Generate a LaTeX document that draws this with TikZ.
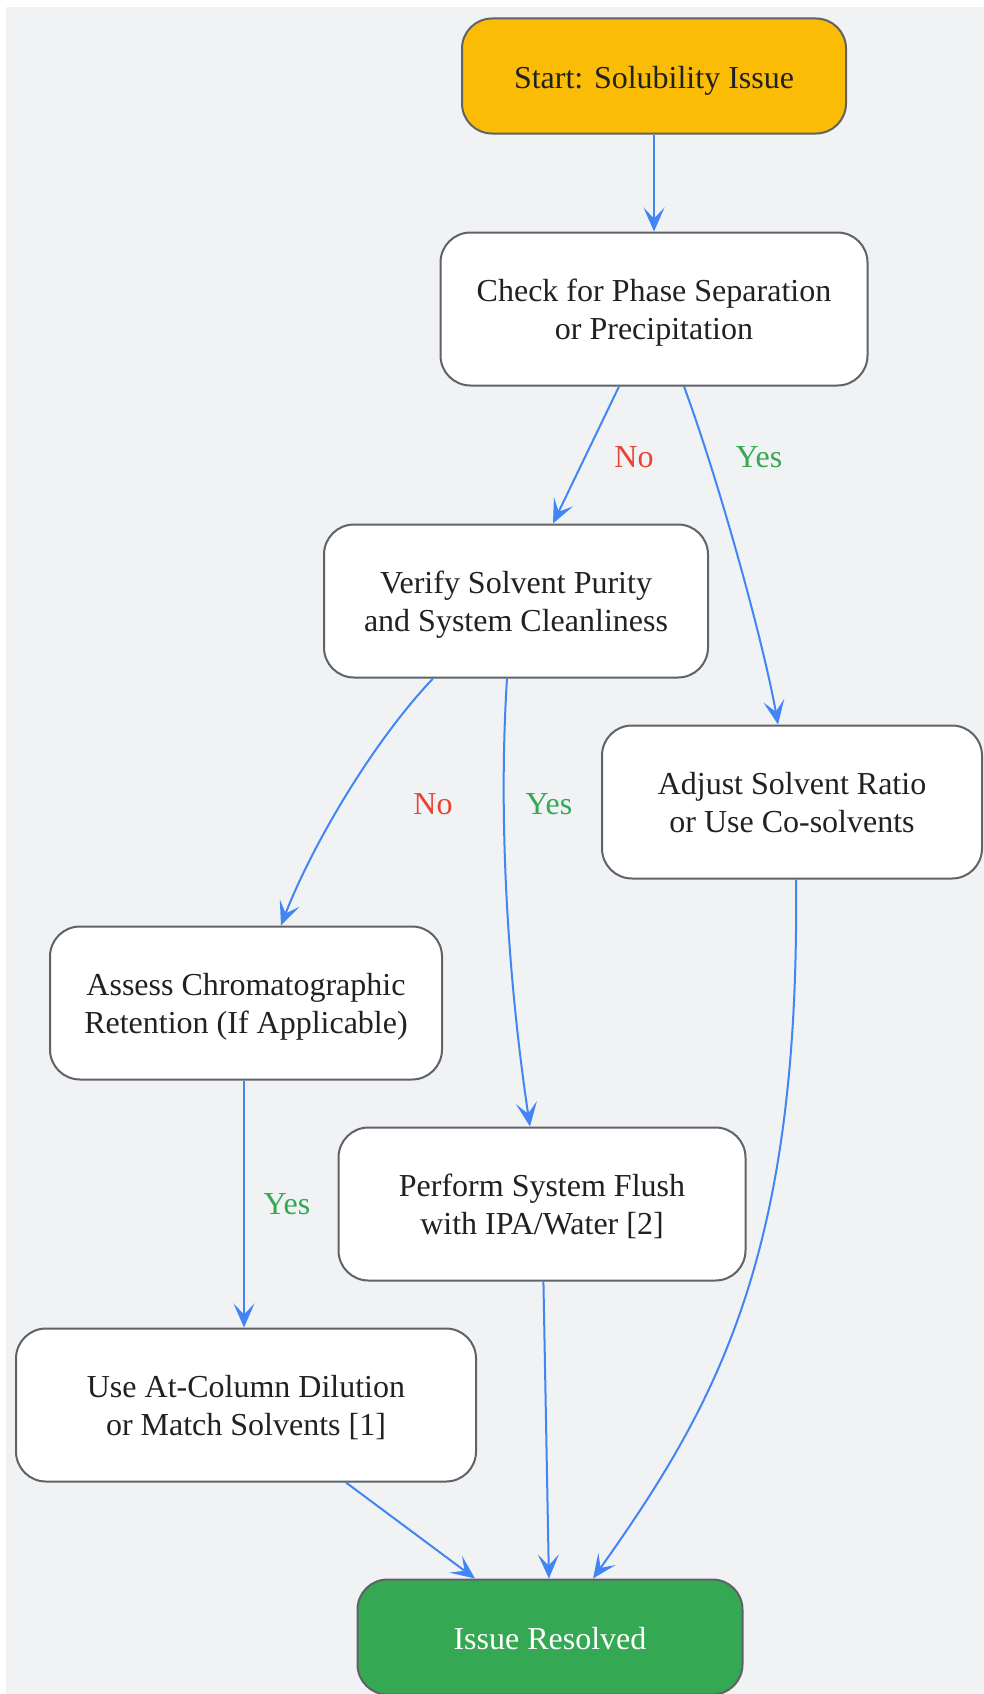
\documentclass[tikz,border=0pt]{standalone}
\usepackage{fontspec}
\setmainfont{Liberation Serif}
\usepackage{tikz}
\usetikzlibrary{arrows.meta, positioning, shapes}
\usepackage{xcolor}
\definecolor{bggray}{HTML}{F1F2F4}
\definecolor{nodeedge}{HTML}{5F6368}
\definecolor{nodetext}{HTML}{202124}
\definecolor{edgeblue}{HTML}{4285F4}
\definecolor{startyellow}{HTML}{FBBC05}
\definecolor{donegreen}{HTML}{34A853}
\definecolor{nored}{HTML}{EA4335}
\newcommand{\linestrut}[1]{\rule[-8.4pt]{0pt}{#1}}

\begin{document}
\begin{tikzpicture}[x=1pt, y=1pt, node distance=201pt]
    \tikzstyle{box} = [rectangle, draw=nodeedge, line width=2pt, fill=white, text=nodetext, align=center, rounded corners=30pt, inner xsep=10pt, inner ysep=0pt, font=\fontsize{32}{38.4}\selectfont]
    \tikzstyle{block} = [box, minimum height=153pt, execute at begin node={\linestrut{77.8pt}}]
    \tikzstyle{terminal} = [box, minimum height=115pt, execute at begin node={\linestrut{42.4pt}}]
    \tikzstyle{line} = [draw=edgeblue, line width=2pt, -{Stealth[length=24pt, width=21pt, inset=11pt]}]
    \tikzstyle{choice} = [font=\fontsize{32}{38.4}\selectfont, inner sep=0pt]

    % 背景
    \useasboundingbox (0,0) rectangle (984,-1694);
    \fill[bggray] (6,-7) rectangle (984,-1694);

    % 各个步骤
    \node[terminal, fill=startyellow, minimum width=384pt] (start) at (654,-76) {Start: Solubility Issue};
    \node[block, below of=start, yshift=-32pt, minimum width=427pt] (check) {Check for Phase Separation\\or Precipitation};
    \node[block, below of=check, xshift=-138pt, yshift=-91pt, minimum width=384pt] (verify) {Verify Solvent Purity\\and System Cleanliness};
    \node[block, below of=verify, xshift=276pt, minimum width=380pt] (adjust) {Adjust Solvent Ratio\\or Use Co-solvents};
    \node[block, below of=adjust, xshift=-546pt, minimum width=392pt] (assess) {Assess Chromatographic\\Retention (If Applicable)};
    \node[block, below of=assess, xshift=296pt, minimum width=407pt] (flush) {Perform System Flush\\with IPA/Water [2]};
    \node[block, below of=flush, xshift=-296pt, minimum width=460pt] (dilute) {Use At-Column Dilution\\or Match Solvents [1]};
    \node[terminal, below of=dilute, xshift=304pt, yshift=-31pt, fill=donegreen, text=white, minimum width=385pt] (resolved) {Issue Resolved};

    % 连接箭头
    \path [line] (start) -- (check);
    \path [line] ([xshift=-35pt]check.south) -- ([xshift=37pt]verify.north);
    \path [line] ([xshift=30pt]check.south) .. controls (722,-490) and (765,-650) .. ([xshift=-14pt]adjust.north);
    \path [line] ([xshift=-83pt]verify.south) .. controls (370,-745) and (310,-850) .. ([xshift=35pt]assess.north);
    \path [line] ([xshift=-9pt]verify.south) .. controls (498,-820) and (508,-980) .. ([xshift=-12pt]flush.north);
    \path [line] ([xshift=4pt]adjust.south) .. controls (800,-1250) and (720,-1400) .. ([xshift=43pt]resolved.north);
    \path [line] ([xshift=-2pt]assess.south) -- ([xshift=-2pt]dilute.north);
    \path [line] ([xshift=100pt]dilute.south) -- ([xshift=-75pt]resolved.north);
    \path [line] (flush) -- (resolved);

    % 分支标签
    \node[choice, text=nored] (no1) at (634,-457) {No};
    \node[choice, text=donegreen] (yes1) at (759,-457) {Yes};
    \node[choice, text=nored] (no2) at (433,-804) {No};
    \node[choice, text=donegreen] (yes2) at (549,-804) {Yes};
    \node[choice, text=donegreen] (yes3) at (287,-1204) {Yes};
\end{tikzpicture}
\end{document}
